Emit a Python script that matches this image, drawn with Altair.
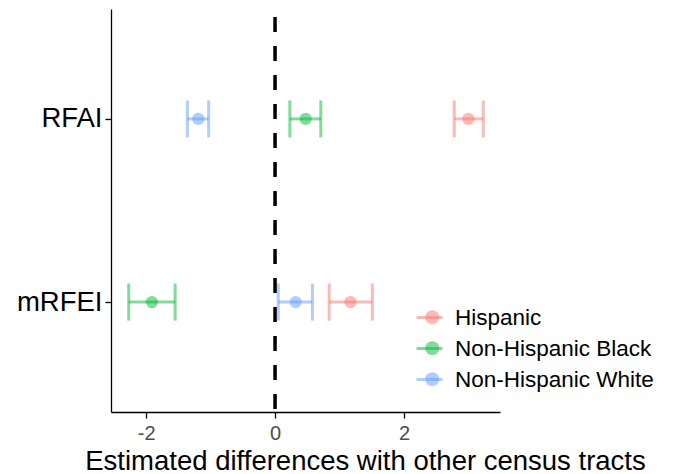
import altair as alt
import pandas as pd

# ---- data ----
index_names = ["RFAI", "RFAI", "RFAI", "mRFEI", "mRFEI", "mRFEI"]
groups = ["Non-Hispanic White", "Non-Hispanic Black", "Hispanic",
          "Non-Hispanic Black", "Non-Hispanic White", "Hispanic"]
estimates = [-1.19, 0.475, 3.00, -1.91, 0.32, 1.17]
lower = [-1.36, 0.23, 2.78, -2.27, 0.05, 0.84]
upper = [-1.03, 0.71, 3.23, -1.55, 0.58, 1.51]

group_order = ["Hispanic", "Non-Hispanic Black", "Non-Hispanic White"]
group_colors = ["#F8766D", "#00BA38", "#619CFF"]
index_order = ["RFAI", "mRFEI"]
x_domain = [-2.545, 3.49]
x_ticks = [-2, 0, 2]
ref_line = [0]

# the point layer keys its own legend (circles) on a twin of the group names,
# so that Vega-Lite does not merge it with the line legend of the error bars
pt_suffix = " "
df = pd.DataFrame({"index": index_names, "group": groups,
                   "group_pt": [g + pt_suffix for g in groups],
                   "est": estimates, "lo": lower, "hi": upper})
ref_df = pd.DataFrame({"x": ref_line})

FONT = "Liberation Sans"
ALPHA = 0.5
LEG_FS = 22.5

xs = alt.Scale(domain=x_domain, nice=False, zero=False)
ys = alt.Scale(type="point", domain=index_order, padding=0.6)
cs = alt.Scale(domain=group_order, range=group_colors)
fs = alt.Scale(domain=[g + pt_suffix for g in group_order], range=group_colors)

x_axis = alt.Axis(values=x_ticks, grid=False, title="Estimated differences with other census tracts",
                  labelColor="#4D4D4D", labelFontSize=20, labelFont=FONT, labelPadding=5,
                  labelExpr="datum.value",
                  titleFont=FONT, titleFontSize=27.5, titleFontWeight="normal", titleColor="black",
                  titlePadding=4, titleX=254, domainColor="black", domainWidth=1.3,
                  tickColor="black", tickWidth=1.3, tickSize=6)
y_axis = alt.Axis(title=None, grid=False, labelColor="black", labelFontSize=27.5, labelFont=FONT,
                  labelPadding=3, domainColor="black", domainWidth=1.3, tickColor="black",
                  tickWidth=1.3, tickSize=6)

base = alt.Chart(df)

line_legend = alt.Legend(
    title=None, orient="none", legendX=307, legendY=297, padding=0,
    symbolType="M-1.3,0H1.3", symbolSize=400, symbolStrokeWidth=3, symbolOpacity=ALPHA,
    labelFont=FONT, labelFontSize=LEG_FS, labelColor="black", labelOffset=14,
    rowPadding=8, labelLimit=300,
)
dot_legend = alt.Legend(
    title=None, orient="none", legendX=310, legendY=297, padding=0,
    symbolType="circle", symbolSize=196, symbolStrokeWidth=0, symbolOpacity=ALPHA,
    labelFont=FONT, labelFontSize=LEG_FS, labelColor="transparent", labelOffset=17,
    labelExpr="''", rowPadding=8, labelLimit=300,
)

bars = base.mark_rule(strokeWidth=3, opacity=ALPHA).encode(
    x=alt.X("lo:Q", scale=xs, axis=x_axis),
    x2="hi:Q",
    y=alt.Y("index:N", scale=ys, axis=y_axis),
    color=alt.Color("group:N", scale=cs, legend=line_legend),
)

caps_lo = base.mark_tick(orient="vertical", size=37, thickness=3, opacity=ALPHA).encode(
    x=alt.X("lo:Q", scale=xs),
    y=alt.Y("index:N", scale=ys),
    color=alt.Color("group:N", scale=cs, legend=line_legend),
)
caps_hi = base.mark_tick(orient="vertical", size=37, thickness=3, opacity=ALPHA).encode(
    x=alt.X("hi:Q", scale=xs),
    y=alt.Y("index:N", scale=ys),
    color=alt.Color("group:N", scale=cs, legend=line_legend),
)

points = base.mark_circle(size=150, opacity=ALPHA).encode(
    x=alt.X("est:Q", scale=xs),
    y=alt.Y("index:N", scale=ys),
    fill=alt.Fill("group_pt:N", scale=fs, legend=dot_legend),
)

vline = alt.Chart(ref_df).mark_rule(color="black", strokeWidth=3.5, strokeDash=[15, 14],
                                    strokeDashOffset=21).encode(
    x=alt.X("x:Q", scale=xs)
)

chart = alt.layer(bars, caps_lo, caps_hi, points, vline).properties(
    width=389, height=403,
    autosize=alt.AutoSizeParams(type="none"),
    padding={"left": 103, "top": 1, "right": 165, "bottom": 63},
).configure_view(stroke=None)

chart.save("out.html", embed_options={"renderer": "svg", "actions": False})
